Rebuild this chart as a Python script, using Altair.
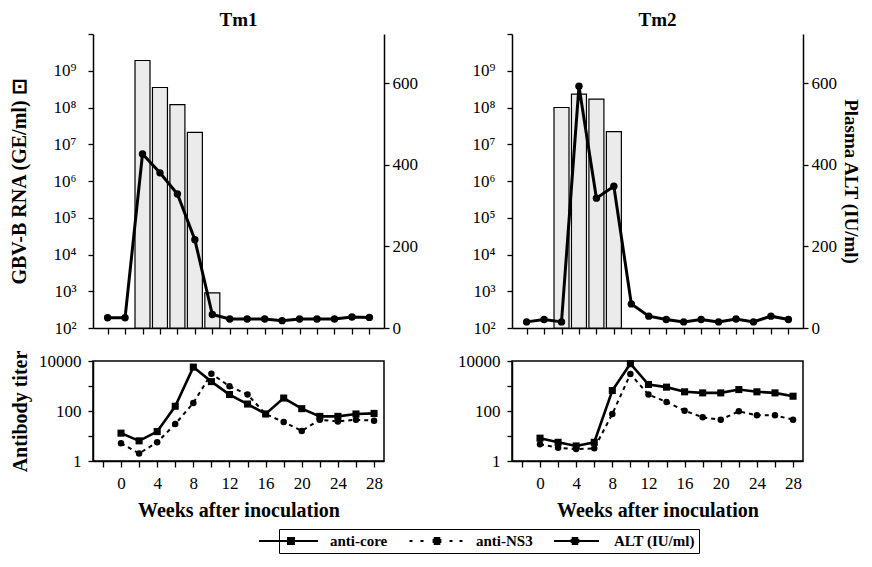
import altair as alt
import pandas as pd

FONT = "Liberation Serif"

# ---------------- data ----------------
alt_weeks = [-2, 0, 2, 4, 6, 8, 10, 12, 14, 16, 18, 20, 22, 24, 26, 28]
tm1_alt = [25, 25, 426, 380, 328, 216, 33, 22, 22, 22, 18, 22, 22, 22, 27, 26]
tm2_alt = [15, 21, 15, 592, 318, 347, 59, 29, 21, 15, 21, 15, 22, 15, 29, 21]

tm1_rna_weeks = [2, 4, 6, 8, 10]
tm1_rna = [1.9e9, 3.5e8, 1.2e8, 2.1e7, 9.0e2]
tm2_rna_weeks = [2, 4, 6, 8]
tm2_rna = [1.0e8, 2.3e8, 1.7e8, 2.2e7]

ab_weeks = [0, 2, 4, 6, 8, 10, 12, 14, 16, 18, 20, 22, 24, 26, 28]
tm1_core = [13, 6.4, 15, 155, 5700, 1500, 455, 190, 76, 330, 124, 61, 61, 76, 80]
tm1_ns3 = [5.1, 2.0, 5.6, 30, 210, 3100, 980, 455, 76, 36, 16, 45, 38, 45, 41]
tm2_core = [8.2, 5.6, 4.0, 5.6, 660, 7800, 1150, 900, 585, 530, 530, 720, 585, 530, 390]
tm2_ns3 = [4.7, 3.4, 3.0, 3.2, 76, 3000, 455, 230, 103, 56, 45, 97, 67, 67, 45]

legend_names = ["anti-core", "anti-NS3", "ALT (IU/ml)"]
week_ticks = list(range(-2, 29, 2))
rna_ticks = [1e2, 1e3, 1e4, 1e5, 1e6, 1e7, 1e8, 1e9, 1e10]
alt_ticks = [0, 200, 400, 600]
ab_ticks = [1, 10, 100, 1000, 10000]

# ---------------- helpers ----------------
X_SCALE = alt.Scale(domain=[-3.1, 29.1], nice=False, zero=False)
W = 291

sup = {2: "²", 3: "³", 4: "⁴", 5: "⁵", 6: "⁶", 7: "⁷", 8: "⁸", 9: "⁹"}
rna_expr = "''"
for k in sorted(sup, reverse=True):
    rna_expr = f"(abs(log(datum.value)/LN10 - {k}) < 0.01) ? '10{sup[k]}' : " + rna_expr


def top_x_axis():
    return alt.Axis(values=week_ticks, labels=False, title=None, tickSize=6,
                    domainWidth=1.5, tickWidth=1.3)


def top_panel(name, rna_w, rna_v, alt_v, left_title, right_title):
    bars_df = pd.DataFrame({"week": rna_w, "rna": rna_v})
    alt_df = pd.DataFrame({"week": alt_weeks, "alt": alt_v})
    bars = alt.Chart(bars_df).mark_bar(
        size=15, fill="#ebebeb", stroke="black", strokeWidth=1.2
    ).encode(
        x=alt.X("week:Q", scale=X_SCALE, axis=top_x_axis()),
        y=alt.Y("rna:Q",
                scale=alt.Scale(type="log", domain=[1e2, 1e10], nice=False),
                axis=alt.Axis(values=rna_ticks, labelExpr=rna_expr, orient="left",
                              title=left_title if left_title else None,
                              tickSize=5, labelPadding=12, titlePadding=24,
                              domainWidth=1.5, tickWidth=1.3, labelOverlap=False)),
        y2=alt.datum(1e2),
    )
    line = alt.Chart(alt_df).mark_line(
        color="black", strokeWidth=3,
        point=alt.OverlayMarkDef(filled=True, fill="black", color="black", size=55),
    ).encode(
        x=alt.X("week:Q", scale=X_SCALE, axis=top_x_axis()),
        y=alt.Y("alt:Q", scale=alt.Scale(domain=[0, 720], nice=False),
                axis=alt.Axis(values=alt_ticks, orient="right",
                              title=right_title if right_title else None,
                              titleFontSize=19,
                              tickSize=5, labelPadding=3, titlePadding=4,
                              domainWidth=1.5, tickWidth=1.3, labelOverlap=False)),
    )
    return alt.layer(bars, line).resolve_scale(y="independent").resolve_axis(
        y="independent"
    ).properties(
        width=W, height=294,
        title=alt.TitleParams(name, font=FONT, fontSize=19, fontWeight="bold",
                              anchor="middle", offset=-5, color="black"),
    )


# legend symbols: stroke-only paths (unit = 7 px)
def u(px):
    return f"{px / 7:.3f}"


def hseg(x0, x1, y):
    return f"M{u(x0)},{u(y)}H{u(x1)}"


square_marker = "".join(hseg(-4, 4, y) for y in [-3, -1, 1, 3])
circle_marker = "".join(hseg(-h, h, y) for h, y in [(3.3, -3), (4.4, -1), (4.4, 1), (3.3, 3)])
core_path = hseg(-32, 27, 0) + square_marker
ns3_path = "".join(hseg(x - 1.5, x + 1.5, 0) for x in [-26, -15, 14, 24]) + circle_marker
altl_path = hseg(-21, 24, 0) + circle_marker


def bottom_x_axis(title):
    return alt.Axis(values=week_ticks,
                    labelExpr="datum.value >= 0 && datum.value % 4 == 0 ? datum.label : ''",
                    title=title, tickSize=6, labelPadding=8, titlePadding=9,
                    labelOverlap=False, labelFlush=False,
                    domainWidth=1.5, tickWidth=1.3)


def bottom_panel(core_v, ns3_v, left_title, with_legend):
    df = pd.DataFrame({"week": ab_weeks, "core": core_v, "ns3": ns3_v})
    yscale = alt.Scale(type="log", domain=[1, 10000], nice=False)
    yaxis = alt.Axis(values=ab_ticks,
                     labelExpr="datum.value == 10 || datum.value == 1000 ? '' : format(datum.value, 'd')",
                     title=left_title if left_title else None,
                     tickSize=5, labelPadding=7, titlePadding=8,
                     domainWidth=1.5, tickWidth=1.3, labelOverlap=False)
    xenc = alt.X("week:Q", scale=X_SCALE, axis=bottom_x_axis("Weeks after inoculation"))
    ns3 = alt.Chart(df).mark_line(
        color="black", strokeWidth=2, strokeDash=[4, 4],
        point=alt.OverlayMarkDef(filled=True, fill="black", color="black",
                                 shape="circle", size=42),
    ).encode(x=xenc, y=alt.Y("ns3:Q", scale=yscale, axis=yaxis))
    core = alt.Chart(df).mark_line(
        color="black", strokeWidth=2.6,
        point=alt.OverlayMarkDef(filled=True, fill="black", color="black",
                                 shape="square", size=50),
    ).encode(x=xenc, y=alt.Y("core:Q", scale=yscale, axis=yaxis))
    layers = [ns3, core]
    if with_legend:
        leg_df = pd.DataFrame({"entry": legend_names})
        leg = alt.Chart(leg_df).mark_point(
            filled=False, color="black", strokeWidth=2, opacity=0
        ).encode(
            shape=alt.Shape(
                "entry:N",
                scale=alt.Scale(domain=legend_names, range=[core_path, ns3_path, altl_path]),
                legend=alt.Legend(
                    orient="none", legendX=186, legendY=495, direction="horizontal",
                    title=None, strokeColor="black", padding=4,
                    symbolSize=196, symbolStrokeWidth=2,
                    symbolStrokeColor="black", symbolOpacity=1,
                    labelFont=FONT, labelFontSize=15, labelFontWeight="bold",
                    labelColor="black", columnPadding=17, labelOffset=31,
                ),
            )
        )
        layers.append(leg)
    return alt.layer(*layers).properties(
        width=W, height=100,
        view=alt.ViewBackground(stroke="black", strokeWidth=1.5),
    )


top1 = top_panel("Tm1", tm1_rna_weeks, tm1_rna, tm1_alt, "GBV-B RNA (GE/ml) ⊡", None)
top2 = top_panel("Tm2", tm2_rna_weeks, tm2_rna, tm2_alt, None, "Plasma ALT (IU/ml)")
bot1 = bottom_panel(tm1_core, tm1_ns3, "Antibody titer", True)
bot2 = bottom_panel(tm2_core, tm2_ns3, None, False)

chart = alt.concat(
    top1, top2, bot1, bot2, columns=2,
    spacing=alt.RowColnumber(row=33, column=128),
    bounds="flush", align="each",
).properties(
    padding={"left": 1, "top": 3, "right": 3, "bottom": 0}
).configure(font=FONT).configure_view(stroke=None).configure_axis(
    labelFont=FONT, titleFont=FONT, labelFontSize=17, titleFontSize=20,
    titleFontWeight="bold", labelColor="black", titleColor="black",
    domainColor="black", tickColor="black", grid=False,
)

chart.save("out.html", embed_options={"renderer": "svg", "actions": False})
